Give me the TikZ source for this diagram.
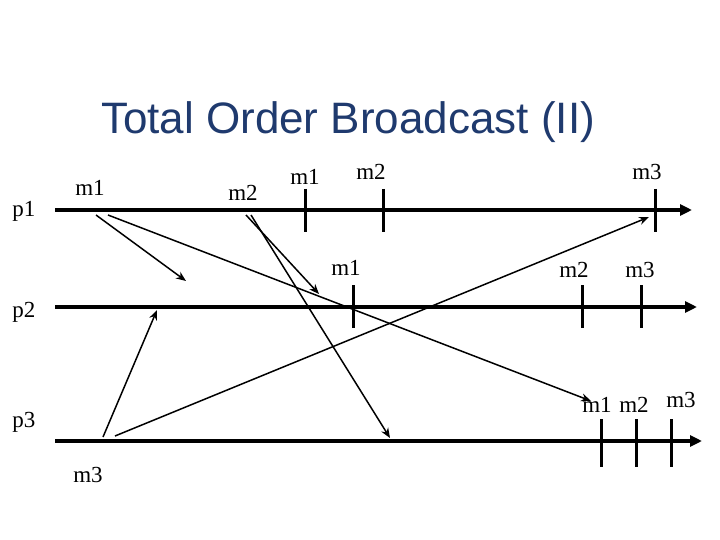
\documentclass[tikz,border=0pt]{standalone}
\usepackage{fontspec}
\setmainfont{Liberation Serif}
\newfontfamily\titlefont{Liberation Sans}
\usetikzlibrary{arrows.meta}
\definecolor{titleblue}{HTML}{1F3A6E}
\begin{document}
\begin{tikzpicture}[x=1pt,y=-1pt,
  proc/.style={line width=4pt,-{Triangle[length=12pt,width=11pt]}},
  tick/.style={line width=3pt},
  msg/.style={line width=1.5pt,-{Stealth[length=10pt,width=8pt]}},
  lbl/.style={font=\fontsize{23}{25}\selectfont,inner sep=0pt}]
\useasboundingbox (0,0) rectangle (720,540);
\node[font=\titlefont\fontsize{44}{48}\selectfont,text=titleblue] (title) at (348,122) {Total Order Broadcast (II)};
\node[lbl] (p1) at (24,211) {p1};
\node[lbl] (p2) at (24,312) {p2};
\node[lbl] (p3) at (24,422) {p3};
\coordinate (a1) at (55,210); \coordinate (b1) at (692,210);
\coordinate (a2) at (55,307); \coordinate (b2) at (697,307);
\coordinate (a3) at (55,441); \coordinate (b3) at (702,441);
\draw[proc] (a1) -- (b1);
\draw[proc] (a2) -- (b2);
\draw[proc] (a3) -- (b3);
\foreach \x in {305,383,655} \draw[tick] (\x,189) -- (\x,232);
\foreach \x in {353,582,641} \draw[tick] (\x,285) -- (\x,328);
\foreach \x in {601,636,671} \draw[tick] (\x,419) -- (\x,467);
\node[lbl] (l1) at (90,188) {m1};
\node[lbl] (l2) at (243,193) {m2};
\node[lbl] (l3) at (305,177) {m1};
\node[lbl] (l4) at (371,172) {m2};
\node[lbl] (l5) at (647,172) {m3};
\node[lbl] (l6) at (346,268) {m1};
\node[lbl] (l7) at (574,270) {m2};
\node[lbl] (l8) at (640,270) {m3};
\node[lbl] (l9) at (597,405) {m1};
\node[lbl] (l10) at (634,405) {m2};
\node[lbl] (l11) at (681,400) {m3};
\node[lbl] (l12) at (88,475) {m3};
\coordinate (s1) at (96,215); \coordinate (e1) at (186,281);
\coordinate (s2) at (108,215); \coordinate (e2) at (591,401);
\coordinate (s3) at (246,215); \coordinate (e3) at (319,294);
\coordinate (s4) at (251,215); \coordinate (e4) at (390,438);
\coordinate (s5) at (103,437); \coordinate (e5) at (157,310);
\coordinate (s6) at (115,436); \coordinate (e6) at (649,217);
\foreach \i in {1,...,6} \draw[msg] (s\i) -- (e\i);
\end{tikzpicture}
\end{document}
